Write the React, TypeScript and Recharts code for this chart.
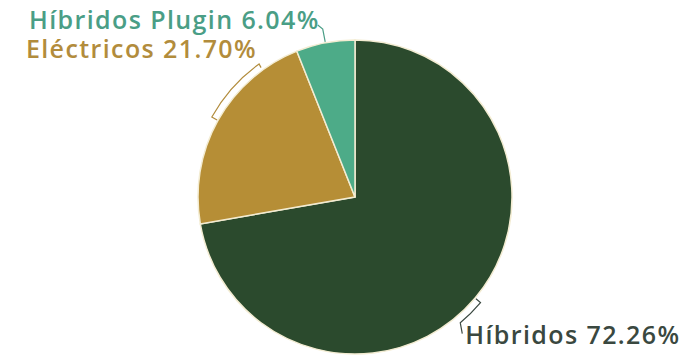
import React from "react";
import { PieChart, Pie, Cell } from "recharts";

const categories = ["Híbridos", "Eléctricos", "Híbridos Plugin"];
const shares = [72.26, 21.7, 6.04];

const sliceColors = ["#2b4a2d", "#b68e36", "#4dab88"];
const textColors = ["#3a4840", "#b28c3c", "#4a9e86"];

// per-slice label layout: leader sweep (deg from mid angle), text anchor and offsets
const labelLayout = [
  { sweep: -10, anchor: "start", dx: 5, dy: 21, out: 18 },
  { sweep: -25, anchor: "end", dx: -2, dy: -6, out: 6 },
  { sweep: 0, anchor: "end", dx: -3, dy: 0, out: 0 },
];

const data = categories.map((name, i) => ({ name, value: shares[i] }));

const RAD = Math.PI / 180;

const renderLabel = (props: any) => {
  const { cx, cy, midAngle, outerRadius, index } = props;
  const cfg = labelLayout[index];
  const pt = (a: number, r: number) => [
    cx + r * Math.cos(-a * RAD),
    cy + r * Math.sin(-a * RAD),
  ];
  const R = outerRadius + 7;
  const a1 = midAngle;
  const a2 = midAngle + cfg.sweep;
  const [sx, sy] = pt(a1, outerRadius + 1);
  const [bx, by] = pt(a1, R);
  const [ex, ey] = pt(a2, R);
  let d = `M${sx},${sy} L${bx},${by}`;
  if (cfg.sweep !== 0) {
    d += ` A${R},${R} 0 0 ${cfg.sweep < 0 ? 1 : 0} ${ex},${ey}`;
  }
  let tx = ex;
  let ty = ey;
  if (cfg.sweep === 0) {
    const [px, py] = pt(a1, outerRadius + 14);
    d = `M${sx},${sy} L${px},${py} L${px - 5},${py - 4}`;
    tx = px;
    ty = py;
  } else if (cfg.out > 0) {
    d += ` L${ex + 2},${ey + cfg.out * 0.6}`;
  } else {
    const [ox, oy] = pt(a2, R + 5);
    d += ` L${ox},${oy}`;
    tx = ox;
    ty = oy;
  }
  return (
    <g>
      <path d={d} fill="none" stroke={textColors[index]} strokeWidth={1.2} />
      <text
        x={tx + cfg.dx}
        y={ty + cfg.dy}
        textAnchor={cfg.anchor as any}
        fill={textColors[index]}
        fontFamily="'Open Sans', sans-serif"
        fontWeight={600}
        fontSize={25}
        letterSpacing={1.4}
      >
        {`${categories[index]} ${shares[index].toFixed(2)}%`}
      </text>
    </g>
  );
};

export default function App() {
  return (
    <div style={{ position: "absolute", left: 0, top: 0, background: "#fff" }}>
      <PieChart width={684} height={355} margin={{ top: 0, right: 0, bottom: 0, left: 0 }}>
        <Pie
          data={data}
          dataKey="value"
          nameKey="name"
          cx={355}
          cy={197}
          outerRadius={157}
          startAngle={90}
          endAngle={-270}
          stroke="#f3ecd2"
          strokeWidth={1.5}
          label={renderLabel}
          labelLine={false}
          isAnimationActive={false}
        >
          {data.map((d, i) => (
            <Cell key={d.name} fill={sliceColors[i]} />
          ))}
        </Pie>
      </PieChart>
    </div>
  );
}
